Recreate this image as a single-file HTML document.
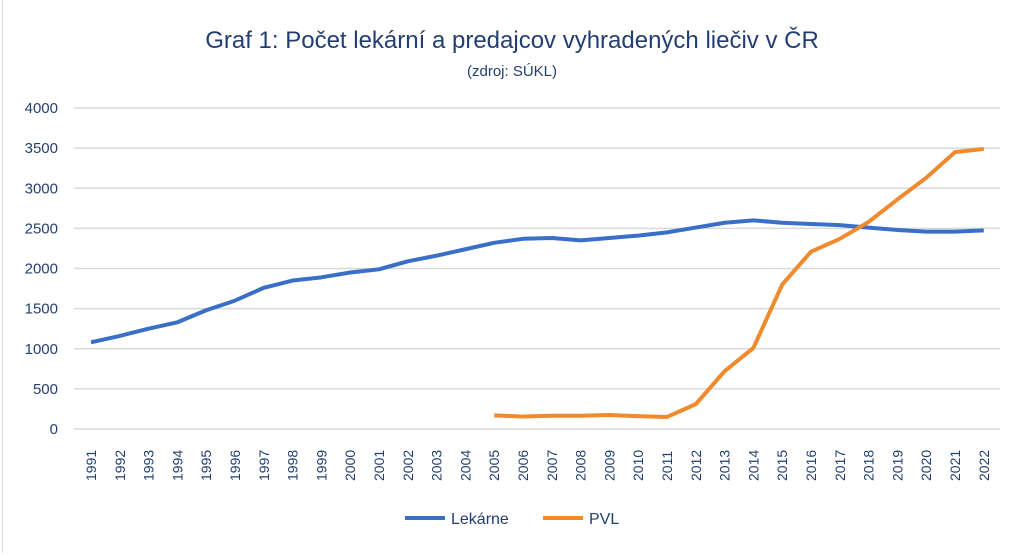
<!DOCTYPE html>
<html><head><meta charset="utf-8"><style>
body{margin:0;background:#fff;width:1024px;height:553px;overflow:hidden;font-family:"Liberation Sans",sans-serif}
</style></head><body>
<svg id="s" width="1024" height="553" xmlns="http://www.w3.org/2000/svg">
<rect x="0" y="0" width="1024" height="553" fill="#fff"/>
<line x1="2.5" y1="0" x2="2.5" y2="553" stroke="#ddd" stroke-width="1"/>
<text x="512" y="48" text-anchor="middle" font-size="24" fill="#233e72" font-family="Liberation Sans, sans-serif">Graf 1: Počet lekární a predajcov vyhradených liečiv v ČR</text>
<text x="512" y="76" text-anchor="middle" font-size="15" fill="#233e72">(zdroj: SÚKL)</text>
<g id="g"></g>
<line x1="405" y1="518" x2="445" y2="518" stroke="#3a6fc8" stroke-width="4"/>
<text x="451" y="524" font-size="16" fill="#233e72">Lekárne</text>
<line x1="543" y1="518" x2="583" y2="518" stroke="#f08a2e" stroke-width="4"/>
<text x="589" y="524" font-size="16" fill="#233e72">PVL</text>
</svg>
<script>
var g=document.getElementById('g'),h='';
function Y(v){return 429-v*(321/4000);}
function X(i){return 91+i*28.8;}
for(var v=0;v<=4000;v+=500){var y=Y(v);h+='<line x1="74" x2="1000" y1="'+y+'" y2="'+y+'" stroke="#d9d9d9" stroke-width="1.5"/>';h+='<text x="58" y="'+(y+5)+'" text-anchor="end" font-size="15" fill="#233e72">'+v+'</text>';}
for(var i=0;i<32;i++){var x=X(i);h+='<text transform="translate('+(x+5)+',481) rotate(-90)" font-size="14" fill="#233e72">'+(1991+i)+'</text>';}
var L=[1080,1160,1250,1330,1480,1600,1760,1850,1890,1950,1990,2090,2160,2240,2320,2370,2380,2350,2380,2410,2450,2510,2570,2600,2570,2555,2540,2510,2480,2460,2460,2475];
var P=[170,155,165,165,175,160,150,310,720,1010,1800,2210,2370,2580,2860,3130,3450,3490];
var a=L.map(function(v,i){return X(i)+','+Y(v)}).join(' ');
var b=P.map(function(v,i){return X(i+14)+','+Y(v)}).join(' ');
h+='<polyline points="'+a+'" fill="none" stroke="#3a6fc8" stroke-width="4" stroke-linejoin="round"/>';
h+='<polyline points="'+b+'" fill="none" stroke="#f08a2e" stroke-width="4" stroke-linejoin="round"/>';
g.innerHTML=h;
</script>
</body></html>
